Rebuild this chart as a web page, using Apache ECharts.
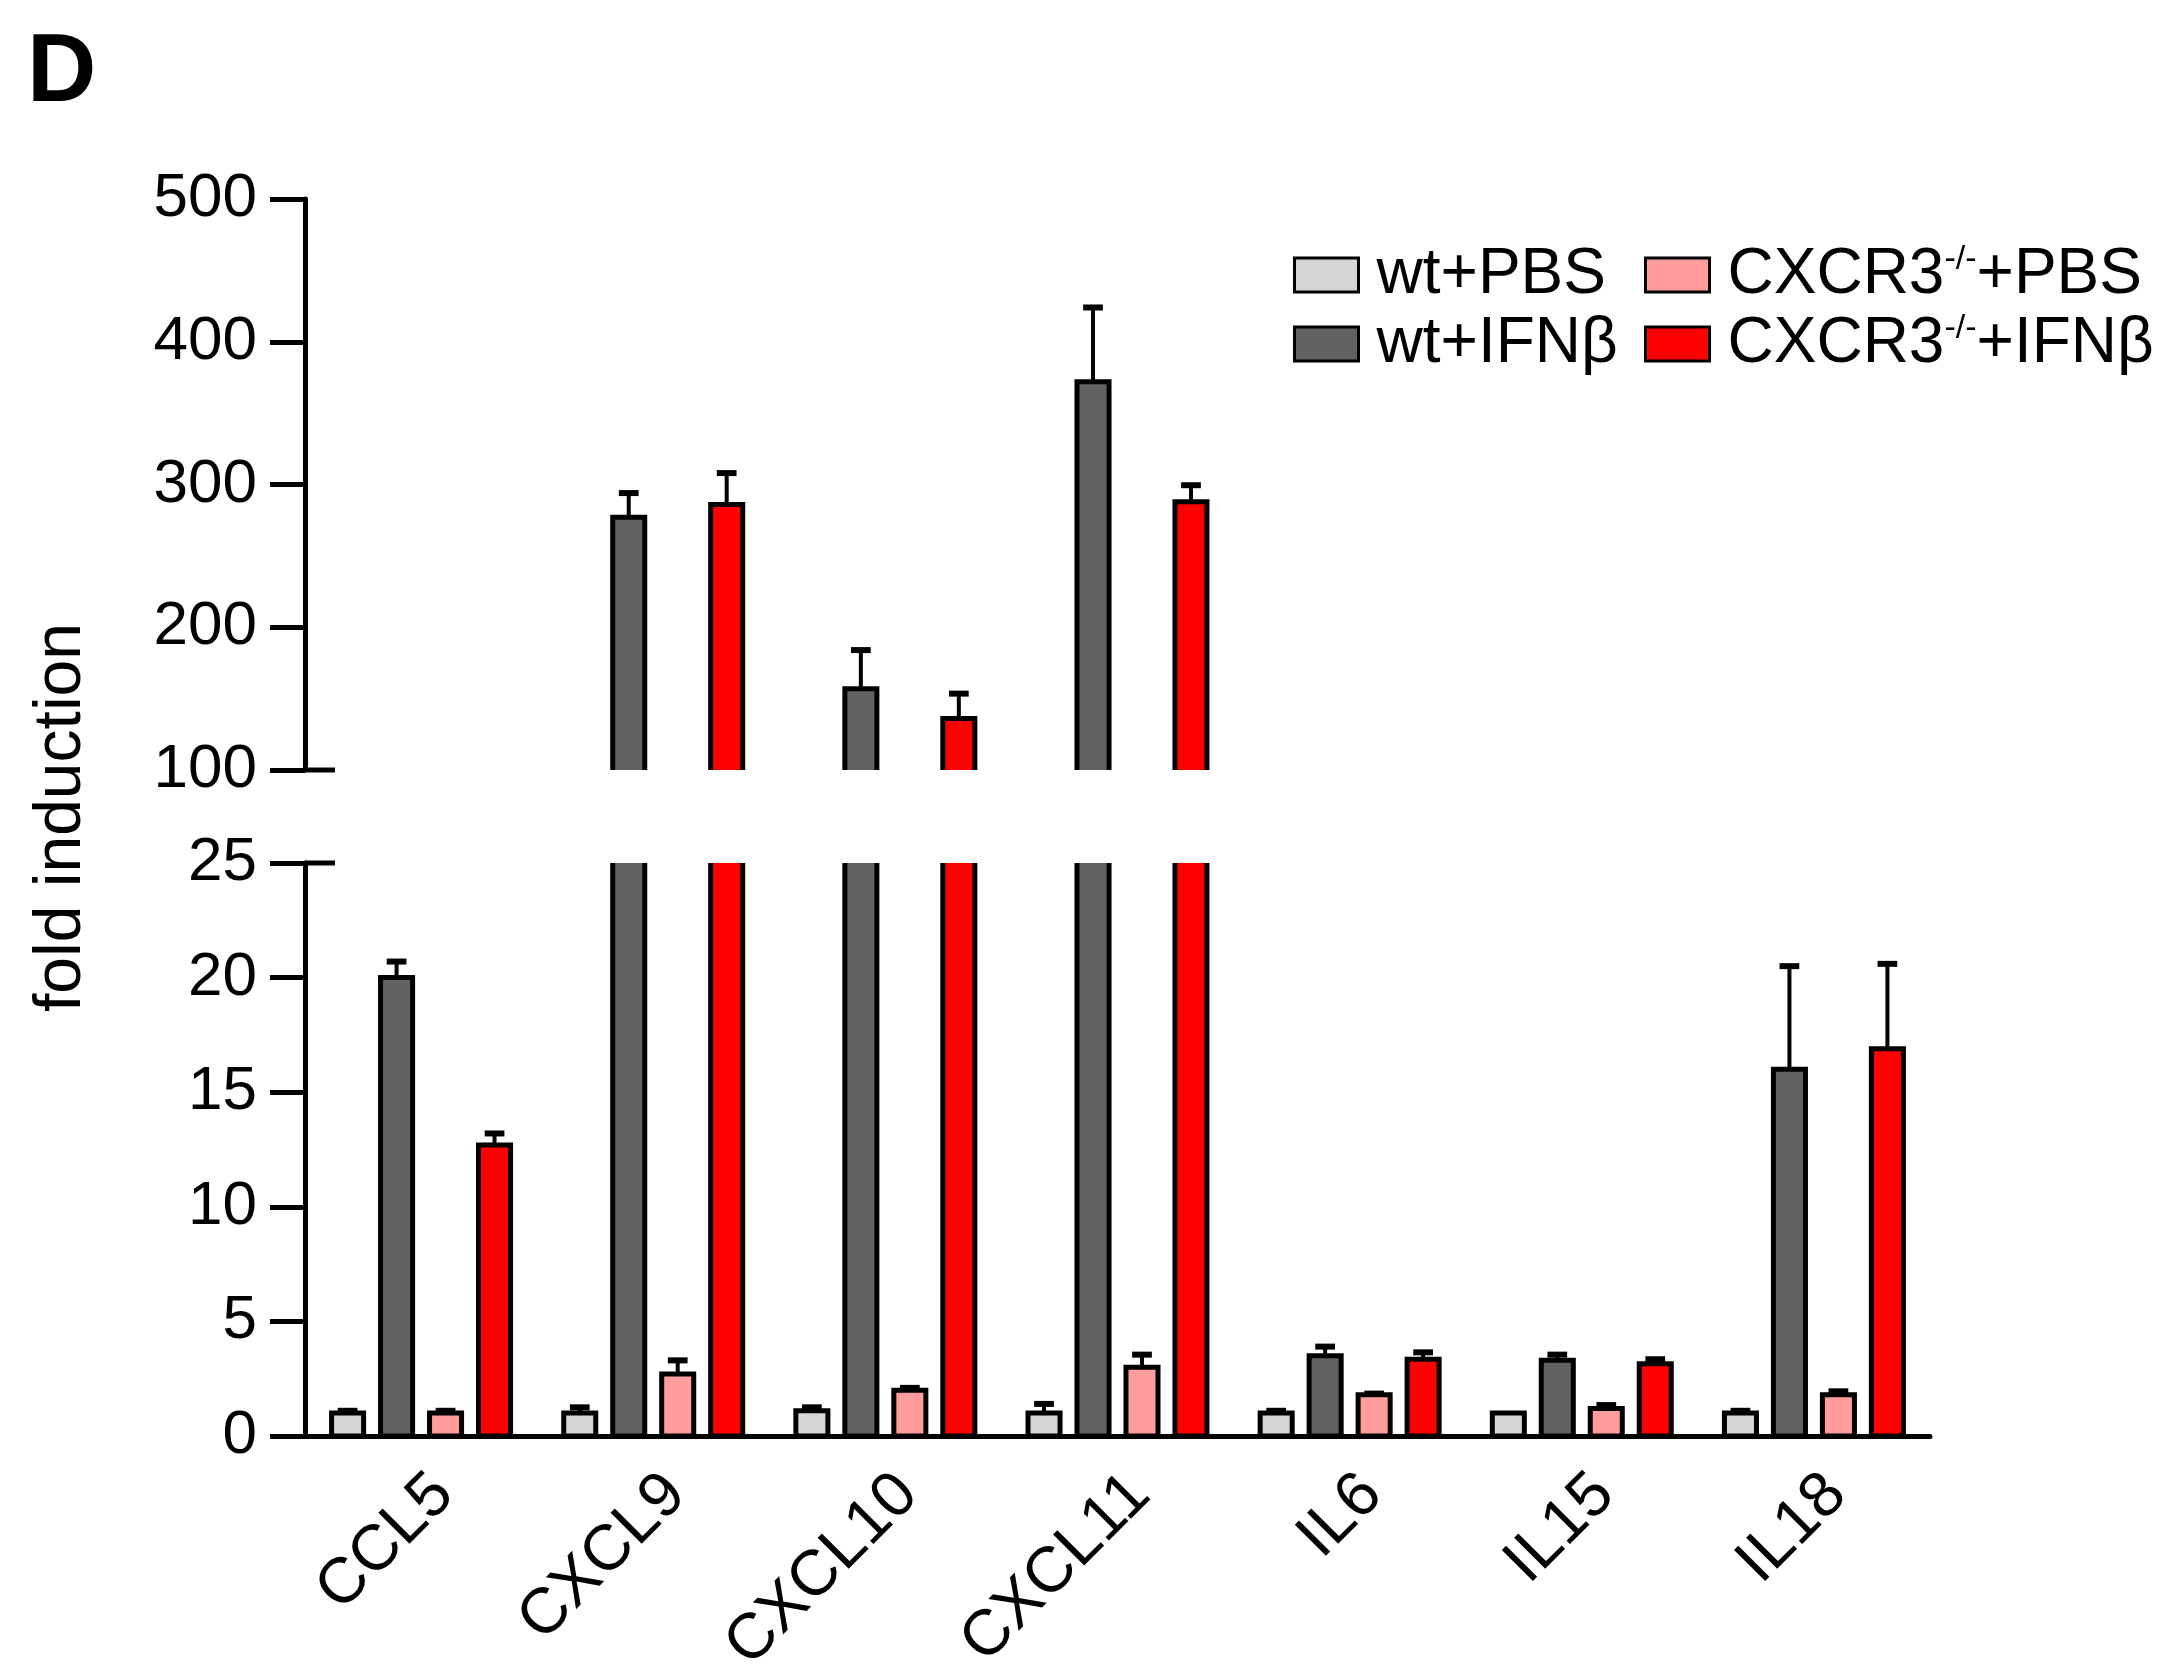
<!DOCTYPE html>
<html>
<head>
<meta charset="utf-8">
<title>fold induction</title>
<script src="https://cdn.jsdelivr.net/npm/echarts@6/dist/echarts.min.js"></script>
<style>
  html, body { margin: 0; padding: 0; background: #fff; }
  #chart { width: 2179px; height: 1672px; }
</style>
</head>
<body>
<div id="chart"></div>
<script>
// genes along the x axis
const genes = ['CCL5', 'CXCL9', 'CXCL10', 'CXCL11', 'IL6', 'IL15', 'IL18'];

// groups, in the order the bars stand inside each gene
const groups = ['wt+PBS', 'wt+IFNβ', 'CXCR3-/-+PBS', 'CXCR3-/-+IFNβ'];

// mean fold induction per group
const wtPbs = [1.0, 1.0, 1.1, 1.0, 1.0, 1.0, 1.0];
const wtIfn = [20.0, 277, 157, 372, 3.5, 3.3, 16.0];
const koPbs = [1.0, 2.7, 2.0, 3.0, 1.8, 1.2, 1.8];
const koIfn = [12.7, 286, 136, 288, 3.35, 3.15, 16.9];

// upper error bar length per group
const wtPbsErr = [0.1, 0.25, 0.15, 0.4, 0.1, 0, 0.1];
const wtIfnErr = [0.7, 17, 27, 52, 0.4, 0.25, 4.5];
const koPbsErr = [0.1, 0.6, 0.1, 0.55, 0.05, 0.15, 0.15];
const koIfnErr = [0.5, 22, 17.5, 11.5, 0.3, 0.2, 3.7];

// ticks of the two pieces of the broken y axis
const upperTicks = [100, 200, 300, 400, 500];
const lowerTicks = [0, 5, 10, 15, 20, 25];

const means = [wtPbs, wtIfn, koPbs, koIfn];
const errors = [wtPbsErr, wtIfnErr, koPbsErr, koIfnErr];
const colors = ['#d6d6d6', '#626262', '#ff9c9c', '#ff0000'];

// layout (px)
const GRID_LEFT = 305;
const GRID_RIGHT = 249;
const UPPER_TOP = 199;
const UPPER_BOTTOM = 770;
const LOWER_TOP = 863;
const LOWER_BOTTOM = 1436;
const BAR_FRAC = 0.138;   // bar width / category width
const PITCH_FRAC = 0.211; // bar-to-bar distance / category width
const CAP_FRAC = 0.085;
const LINE_W = 5;
const FONT = '"Liberation Sans", Arial, Helvetica, sans-serif';
const FONT_SIZE = 62;

/**
 * Bars drawn by hand so the cut at the axis break stays open (no border line)
 */
function barSeries(axisIdx, k) {
  return {
    type: 'custom',
    name: groups[k],
    xAxisIndex: axisIdx,
    yAxisIndex: axisIdx,
    clip: true,
    z: 2,
    itemStyle: { color: colors[k] },
    encode: { x: 0, y: 1 },
    data: means[k].map((v, i) => [i, v]),
    renderItem(params, api) {
      const band = api.size([1, 0])[0];
      const top = api.coord([api.value(0), api.value(1)]);
      const base = api.coord([api.value(0), 0]);
      const w = band * BAR_FRAC;
      const cx = top[0] + (k - 1.5) * band * PITCH_FRAC;
      return {
        type: 'rect',
        shape: { x: cx - w / 2, y: top[1], width: w, height: base[1] - top[1] },
        style: { fill: colors[k], stroke: '#000', lineWidth: LINE_W }
      };
    }
  };
}

/**
 * Upper-only error bars with a short cap
 */
function errorSeries(axisIdx, k) {
  return {
    type: 'custom',
    name: groups[k],
    xAxisIndex: axisIdx,
    yAxisIndex: axisIdx,
    clip: true,
    z: 3,
    itemStyle: { color: colors[k] },
    encode: { x: 0, y: 1 },
    data: means[k].map((v, i) => [i, v, errors[k][i]]),
    renderItem(params, api) {
      const err = api.value(2);
      if (!err) return null;
      const band = api.size([1, 0])[0];
      const cat = api.value(0);
      const v = api.value(1);
      const p0 = api.coord([cat, v]);
      const p1 = api.coord([cat, v + err]);
      const x = p0[0] + (k - 1.5) * band * PITCH_FRAC;
      const cap = band * CAP_FRAC;
      return {
        type: 'group',
        children: [
          { type: 'line', shape: { x1: x, y1: p0[1], x2: x, y2: p1[1] },
            style: { stroke: '#000', lineWidth: 4 } },
          { type: 'line', shape: { x1: x - cap / 2, y1: p1[1], x2: x + cap / 2, y2: p1[1] },
            style: { stroke: '#000', lineWidth: 6 } }
        ]
      };
    }
  };
}

function legendItem(k) {
  return {
    name: groups[k],
    icon: 'rect',
    itemStyle: { color: colors[k], borderColor: '#000', borderWidth: 3 }
  };
}

function legendBlock(left, items) {
  return {
    orient: 'vertical',
    left: left,
    top: 243,
    padding: 0,
    itemWidth: 64,
    itemHeight: 34,
    itemGap: 5,
    selectedMode: false,
    data: items.map(legendItem),
    formatter: (name) => name.replace('-/-', '{sup|-/-}'),
    textStyle: {
      color: '#000',
      fontFamily: FONT,
      fontSize: 64,
      padding: [0, 0, 0, 13],
      rich: {
        sup: { fontFamily: FONT, fontSize: 34, color: '#000', verticalAlign: 'top' }
      }
    }
  };
}

const valueAxisBase = {
  type: 'value',
  axisLine: { show: true, lineStyle: { color: '#000', width: LINE_W } },
  axisTick: { show: true, length: 35, lineStyle: { color: '#000', width: LINE_W } },
  axisLabel: { color: '#000', fontFamily: FONT, fontSize: FONT_SIZE, margin: 48 },
  splitLine: { show: false }
};

const option = {
  animation: false,
  backgroundColor: '#fff',
  title: {
    text: 'D',
    left: 22,
    top: 22,
    textStyle: { fontFamily: FONT, fontSize: 96, fontWeight: 'bold', color: '#000' }
  },
  legend: [legendBlock(1293, [0, 1]), legendBlock(1644, [2, 3])],
  grid: [
    { left: GRID_LEFT, right: GRID_RIGHT, top: UPPER_TOP, height: UPPER_BOTTOM - UPPER_TOP,
      containLabel: false, outerBoundsMode: 'none' },
    { left: GRID_LEFT, right: GRID_RIGHT, top: LOWER_TOP, height: LOWER_BOTTOM - LOWER_TOP,
      containLabel: false, outerBoundsMode: 'none' }
  ],
  xAxis: [
    { type: 'category', gridIndex: 0, data: genes, show: false },
    {
      type: 'category',
      gridIndex: 1,
      data: genes,
      axisLine: { lineStyle: { color: '#000', width: LINE_W } },
      axisTick: { show: false },
      axisLabel: {
        color: '#000', fontFamily: FONT, fontSize: 64,
        rotate: 45, margin: 26, interval: 0, verticalAlign: 'top'
      }
    }
  ],
  yAxis: [
    Object.assign({}, valueAxisBase, {
      gridIndex: 0,
      min: upperTicks[0],
      max: upperTicks[upperTicks.length - 1],
      interval: upperTicks[1] - upperTicks[0]
    }),
    Object.assign({}, valueAxisBase, {
      gridIndex: 1,
      min: lowerTicks[0],
      max: lowerTicks[lowerTicks.length - 1],
      interval: lowerTicks[1] - lowerTicks[0]
    })
  ],
  graphic: [
    {
      type: 'text',
      x: 62,
      y: (UPPER_TOP + LOWER_BOTTOM) / 2,
      rotation: Math.PI / 2,
      style: {
        text: 'fold induction', fill: '#000',
        font: '66px ' + FONT,
        align: 'center', verticalAlign: 'middle'
      }
    },
    // break marks: the ticks at 100 and 25 run across the axis
    { type: 'line', shape: { x1: GRID_LEFT, y1: UPPER_BOTTOM, x2: GRID_LEFT + 30, y2: UPPER_BOTTOM },
      style: { stroke: '#000', lineWidth: LINE_W } },
    { type: 'line', shape: { x1: GRID_LEFT, y1: LOWER_TOP, x2: GRID_LEFT + 30, y2: LOWER_TOP },
      style: { stroke: '#000', lineWidth: LINE_W } }
  ],
  series: []
};

[0, 1].forEach((axisIdx) => {
  groups.forEach((g, k) => {
    option.series.push(barSeries(axisIdx, k));
    option.series.push(errorSeries(axisIdx, k));
  });
});

const chart = echarts.init(document.getElementById('chart'));
chart.setOption(option);
</script>
</body>
</html>
